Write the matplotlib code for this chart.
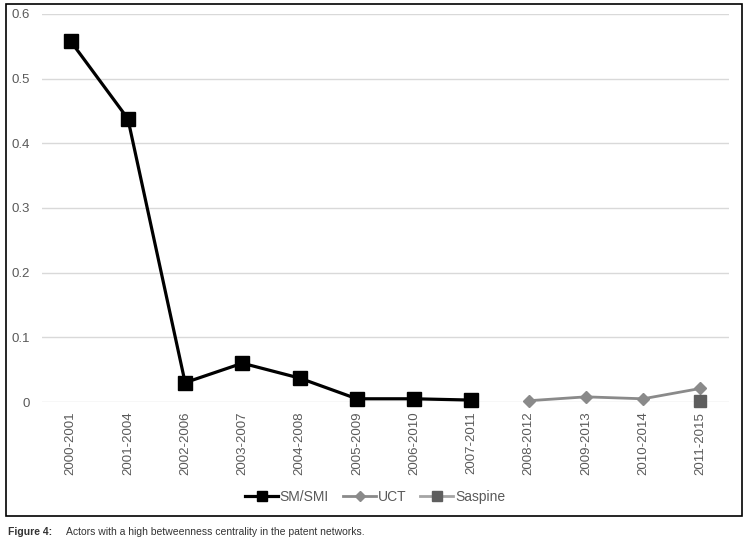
import matplotlib
matplotlib.use("Agg")
import matplotlib.pyplot as plt
from matplotlib.patches import Rectangle

periods = ["2000-2001", "2001-2004", "2002-2006", "2003-2007", "2004-2008", "2005-2009",
           "2006-2010", "2007-2011", "2008-2012", "2009-2013", "2010-2014", "2011-2015"]
sm_smi = [0.558, 0.438, 0.030, 0.060, 0.037, 0.005, 0.005, 0.003]
uct = [0.002, 0.008, 0.005, 0.021]
saspine = [0.002]

plt.rcParams['font.family'] = ['Liberation Sans', 'DejaVu Sans']
txtgray = '#595959'

fig = plt.figure(figsize=(7.5, 5.46), dpi=100)
ax = fig.add_axes([0.056, 0.2637, 0.916, 0.7107])

x = list(range(len(periods)))
ax.plot(x[:8], sm_smi, color='black', lw=2.3, marker='s', ms=9.5, label='SM/SMI', clip_on=False, zorder=4)
ax.plot(x[8:], uct, color='#8a8a8a', lw=2.0, marker='D', ms=6.5, label='UCT', clip_on=False, zorder=3)
ax.plot(x[11:], saspine, color='#a5a5a5', lw=2.0, marker='s', ms=9, mfc='#5e5e5e', mec='#5e5e5e',
        label='Saspine', clip_on=False, zorder=5)

ax.set_xlim(-0.5, len(periods) - 0.5)
ax.set_ylim(0, 0.6)
ax.set_yticks([0, 0.1, 0.2, 0.3, 0.4, 0.5, 0.6])
ax.set_yticklabels(['0', '0.1', '0.2', '0.3', '0.4', '0.5', '0.6'])
ax.set_xticks(x)
ax.set_xticklabels(periods, rotation=90)
ax.tick_params(axis='both', length=0, colors=txtgray, labelsize=9.5)
ax.tick_params(axis='x', pad=7)
ax.tick_params(axis='y', pad=8.5)
ax.grid(axis='y', color='#d9d9d9', lw=1)
ax.set_axisbelow(True)
for s in ax.spines.values():
    s.set_visible(False)

leg = fig.legend(loc='center', bbox_to_anchor=(0.5, 0.09), ncol=3, frameon=False, fontsize=10,
                 handlelength=2.4, columnspacing=1.0, handletextpad=0.1, markerscale=0.75)
for t in leg.get_texts():
    t.set_color(txtgray)

fig.patches.append(Rectangle((0.008, 0.055), 0.981, 0.938, transform=fig.transFigure,
                             fill=False, ec='black', lw=1.2))

fig.text(0.011, 0.026, 'Figure 4:', fontsize=7.5, fontweight='bold', color='#333333',
         family=['Liberation Sans Narrow', 'Liberation Sans', 'DejaVu Sans'], va='center')
fig.text(0.088, 0.026, 'Actors with a high betweenness centrality in the patent networks.', fontsize=7.5,
         color='#333333', family=['Liberation Sans Narrow', 'Liberation Sans', 'DejaVu Sans'], va='center')

fig.savefig('out.png', dpi=100)
